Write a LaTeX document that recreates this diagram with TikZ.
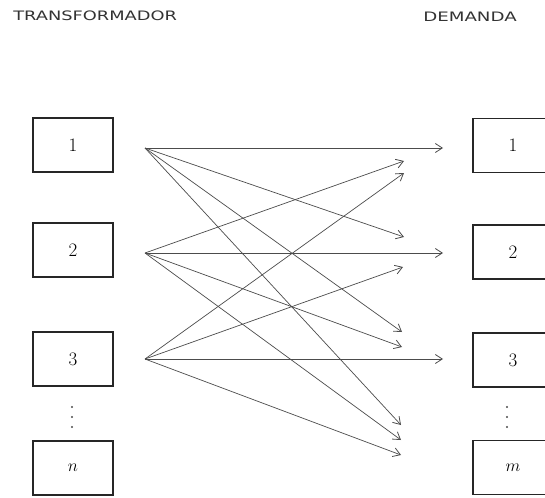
\documentclass[tikz,border=0pt]{standalone}
\usepackage{fontspec}
\setsansfont{DejaVu Sans}
\usetikzlibrary{arrows.meta}
\tikzset{
  box/.style={draw=black!85, line width=1.1pt, minimum width=80pt, minimum height=54pt, inner sep=0pt, font=\fontsize{19}{19}\selectfont},
  link/.style={draw=black!70, line width=0.7pt, -{Straight Barb[length=7pt,width=9pt,line width=0.8pt]}},
  dot/.style={circle, fill=black!70, inner sep=0pt, minimum size=2.2pt},
  title/.style={font=\sffamily\fontsize{13}{13}\selectfont, text=black!80, inner sep=0pt}
}
\begin{document}
\begin{tikzpicture}[x=1pt,y=-1pt]
\useasboundingbox (0,0) rectangle (545,497);
\clip (0,0) rectangle (545,497);
\fill[white] (0,0) rectangle (545,497);
% titles
\node[title, anchor=west, xscale=1.37] (tT) at (13,16) {TRANSFORMADOR};
\node[title, anchor=west, xscale=1.4] (tD) at (423,17) {DEMANDA};
% left boxes
\node[box] (L1) at (73,145) {1};
\node[box] (L2) at (73,250) {2};
\node[box] (L3) at (73,359) {3};
\node[box] (Ln) at (73,468) {$n$};
% right boxes
\node[box] (R1) at (513,145.5) {1};
\node[box] (R2) at (513,252) {2};
\node[box] (R3) at (513,360) {3};
\node[box] (Rm) at (513,467.5) {$m$};
% dots
\node[dot] (dl1) at (72,407) {};
\node[dot] (dl2) at (72,417) {};
\node[dot] (dl3) at (72,427) {};
\node[dot] (dr1) at (507,407) {};
\node[dot] (dr2) at (507,417) {};
\node[dot] (dr3) at (507,427) {};
% sources
\coordinate (s1) at (145,148);
\coordinate (s2) at (145,253);
\coordinate (s3) at (145,359);
% ends
\coordinate (h1) at (443,148);
\coordinate (h2) at (443,253);
\coordinate (h3) at (443,359);
\coordinate (e21) at (404,161);
\coordinate (e31) at (404,173);
\coordinate (e12) at (404,237);
\coordinate (e32) at (403,267);
\coordinate (e13) at (402,332);
\coordinate (e23) at (402,347);
\coordinate (e1m) at (401,425);
\coordinate (e2m) at (401,440);
\coordinate (e3m) at (401,455);
% connectors
\draw[link] (s1) -- (h1);
\draw[link] (s2) -- (h2);
\draw[link] (s3) -- (h3);
\draw[link] (s1) -- (e12);
\draw[link] (s1) -- (e13);
\draw[link] (s1) -- (e1m);
\draw[link] (s2) -- (e21);
\draw[link] (s2) -- (e23);
\draw[link] (s2) -- (e2m);
\draw[link] (s3) -- (e31);
\draw[link] (s3) -- (e32);
\draw[link] (s3) -- (e3m);
\end{tikzpicture}
\end{document}
